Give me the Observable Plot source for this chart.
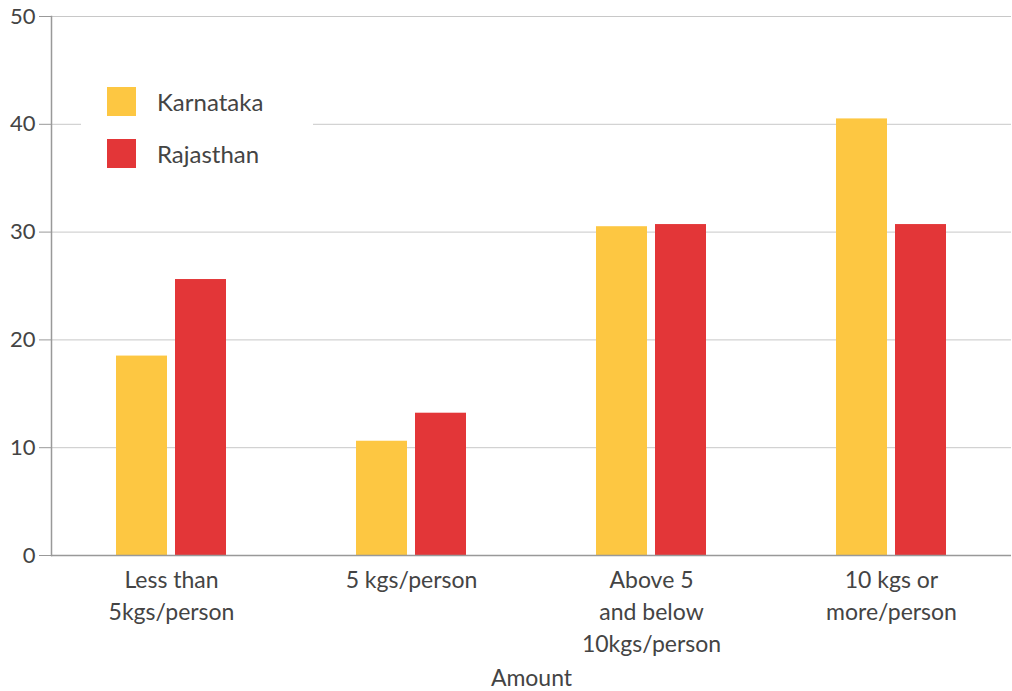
<!DOCTYPE html>
<html>
<head>
<meta charset="utf-8">
<script src="https://cdn.jsdelivr.net/npm/d3@7"></script>
<script src="https://cdn.jsdelivr.net/npm/@observablehq/plot@0.6"></script>
<style>
  body { margin: 0; background: #fff; font-family: Lato, "Open Sans", sans-serif; }
  #wrap { position: relative; width: 1012px; height: 691px; }
  #legend { position: absolute; left: 81px; top: 72px; width: 232px; height: 112px; background: #fff; }
  .item { position: absolute; left: 26px; display: flex; align-items: center; font-size: 24px; color: #444; }
  .sw { width: 29px; height: 29px; margin-right: 21px; }
</style>
</head>
<body>
<div id="wrap"></div>
<script>
const categories = ["Less than\n5kgs/person", "5 kgs/person", "Above 5\nand below\n10kgs/person", "10 kgs or\nmore/person"];
const series = ["Karnataka", "Rajasthan"];
const karnataka = [18.5, 10.6, 30.5, 40.5];
const rajasthan = [25.6, 13.2, 30.7, 30.7];
const colors = ["#fdc742", "#e33638"];
const yTicks = [0, 10, 20, 30, 40, 50];

const data = [];
categories.forEach((c, i) => {
  data.push({category: c, state: series[0], value: karnataka[i]});
  data.push({category: c, state: series[1], value: rajasthan[i]});
});

const chart = Plot.plot({
  width: 1012,
  height: 691,
  marginLeft: 51,
  marginRight: 1,
  marginTop: 16,
  marginBottom: 136,
  style: {fontFamily: "Lato, 'Open Sans', sans-serif", background: "#fff"},
  fx: {domain: categories, padding: 0, label: null},
  x: {domain: series, paddingInner: 0.1333, paddingOuter: 1.0667, axis: null},
  y: {domain: [0, 50], ticks: yTicks, label: null, axis: null},
  color: {domain: series, range: colors},
  marks: [
    Plot.gridY(yTicks, {stroke: "#c8c8c8", strokeOpacity: 1}),
    Plot.barY(data, {fx: "category", x: "state", y: "value", fill: "state"}),
    Plot.ruleY([0], {stroke: "#999", strokeWidth: 1.5}),
    Plot.axisY(yTicks, {tickSize: 12, tickPadding: 4, stroke: "#999", fill: "#444", fontSize: 22, tickFormat: d => d, label: null}),
    Plot.axisFx({anchor: "bottom", tickSize: 0, tickPadding: 10, fontSize: 23, fill: "#444", lineHeight: 1.39, label: null}),
    Plot.text(["Amount"], {frameAnchor: "bottom", dy: 130, fontSize: 23, fill: "#444", lineAnchor: "bottom", facet: "super"}),
    Plot.frame({anchor: "left", stroke: "#999", strokeWidth: 1.5, facetAnchor: "left"})
  ]
});

const wrap = document.getElementById("wrap");
wrap.appendChild(chart);

const legend = document.createElement("div");
legend.id = "legend";
series.forEach((s, i) => {
  const item = document.createElement("div");
  item.className = "item";
  item.style.top = (15 + i * 52) + "px";
  const sw = document.createElement("div");
  sw.className = "sw";
  sw.style.background = colors[i];
  const t = document.createElement("span");
  t.textContent = s;
  item.appendChild(sw);
  item.appendChild(t);
  legend.appendChild(item);
});
wrap.appendChild(legend);
</script>
</body>
</html>
